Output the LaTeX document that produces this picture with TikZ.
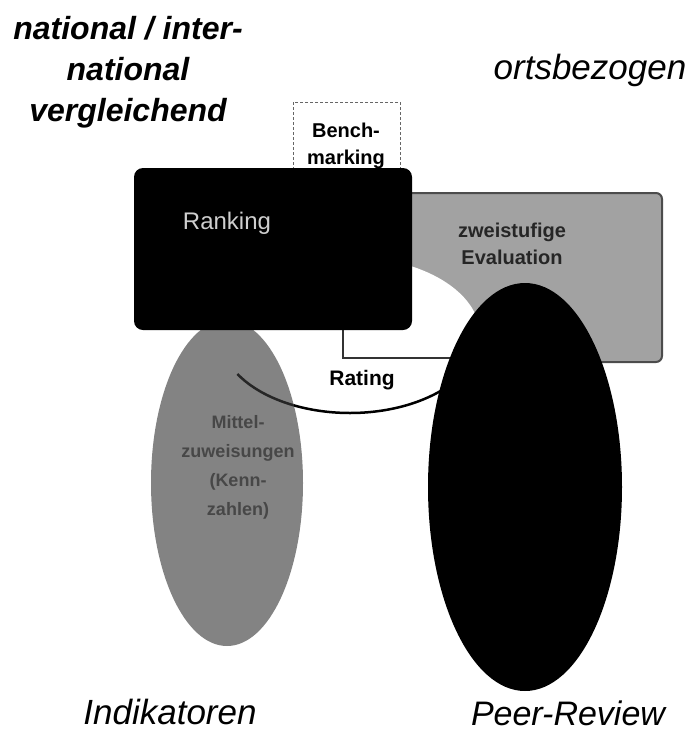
\documentclass[tikz,border=0pt]{standalone}
\usepackage{fontspec}
\setmainfont{Liberation Sans}
\definecolor{evalgrey}{HTML}{A2A2A2}
\definecolor{ellgrey}{HTML}{838383}
\definecolor{ellText}{HTML}{474747}
\definecolor{rankText}{HTML}{CFCFCF}
\begin{document}
\begin{tikzpicture}[x=1pt,y=-1pt,
  title/.style={font=\fontsize{32}{41}\selectfont\bfseries\itshape, align=center, inner sep=0pt},
  corner/.style={font=\fontsize{35}{40}\selectfont\itshape, inner sep=0pt},
  boxtext/.style={font=\fontsize{20}{27}\selectfont\bfseries, align=center, inner sep=0pt},
]
\useasboundingbox (0,0) rectangle (692,734);

% zweistufige Evaluation box
\fill[evalgrey, draw=black!70, line width=2pt, rounded corners=6pt] (343,193) rectangle (662,362);
\node[boxtext, text=black!85] (evaltext) at (512,244) {zweistufige\\Evaluation};

% Rating ellipse (white)
\fill[white] (350,335) ellipse [x radius=130, y radius=78];
\draw[black!80, line width=1.6pt] (343,327) -- (343,358) -- (450,358);
\draw[black, line width=2.5pt] (350,335) ++(150:130 and 78) arc[start angle=150, end angle=40, x radius=130, y radius=78];
\node[boxtext, font=\fontsize{21}{25}\selectfont\bfseries] (rating) at (362,380) {Rating};

% Peer-Review ellipse (black)
\fill[black] (525,487) ellipse [x radius=97, y radius=204];
\node[inner sep=0pt] (peer) at (525,487) {};

% Indikatoren ellipse (grey)
\fill[ellgrey] (227,483) ellipse [x radius=76, y radius=163];
\node[boxtext, font=\fontsize{18}{29}\selectfont\bfseries, text=ellText] (mittel) at (238,467) {Mittel-\\zuweisungen\\(Kenn-\\zahlen)};

% Rating outline visible over grey ellipse
\begin{scope}
\clip (227,483) ellipse [x radius=76, y radius=163];
\draw[black!85, line width=2.5pt] (350,335) ++(150:130 and 78) arc[start angle=150, end angle=100, x radius=130, y radius=78];
\end{scope}

% Benchmarking box
\draw[black!60, densely dashed, line width=0.9pt, fill=white] (293,102) rectangle (400,185);
\node[boxtext] (bench) at (346,146) {Bench-\\marking};

% Ranking box
\fill[black, rounded corners=9pt] (134,168) rectangle (412,330);
\node[font=\fontsize{24}{28}\selectfont, text=rankText, inner sep=0pt] (ranking) at (227,223) {Ranking};

% Labels
\node[title] (natl) at (128,72) {national / inter-\\national\\vergleichend};
\node[corner] (orts) at (590,70) {ortsbezogen};
\node[corner] (indik) at (170,712) {Indikatoren};
\node[corner, font=\fontsize{34}{40}\selectfont\itshape] (peerlbl) at (568,713) {Peer-Review};
\end{tikzpicture}
\end{document}
